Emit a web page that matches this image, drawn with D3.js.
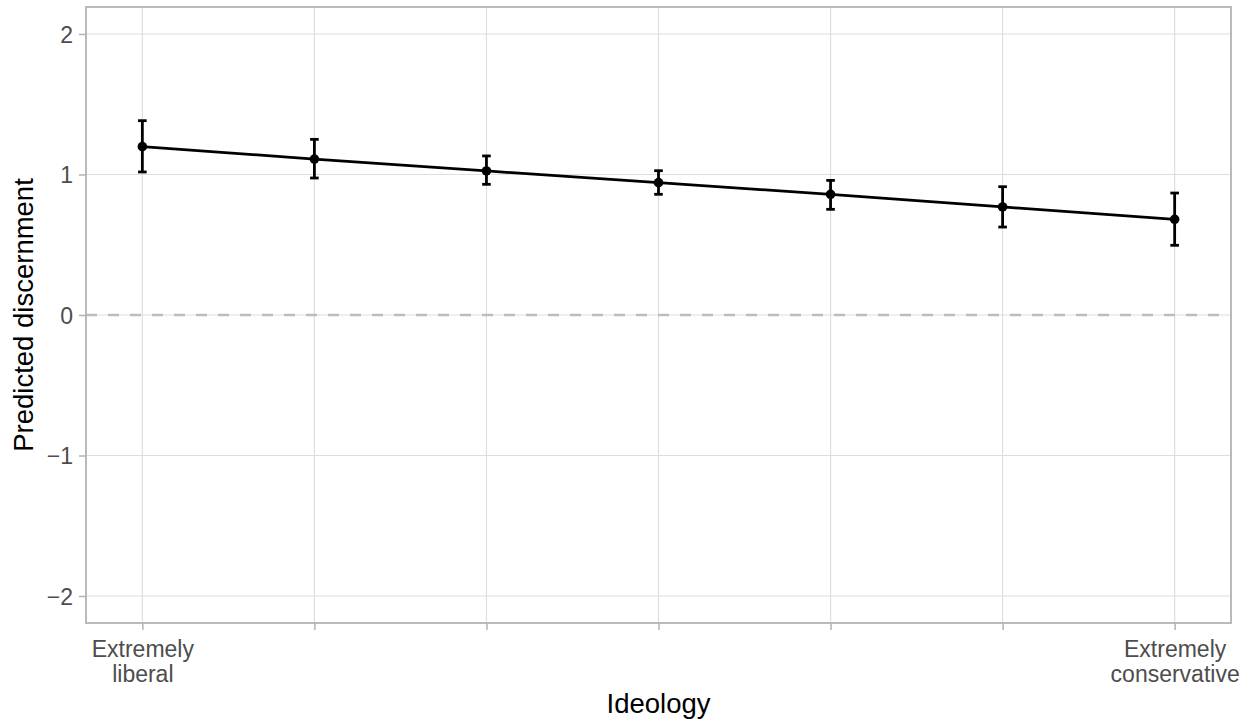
<!DOCTYPE html>
<html>
<head>
<meta charset="utf-8">
<script src="https://cdn.jsdelivr.net/npm/d3@7"></script>
<style>
  html, body { margin: 0; padding: 0; background: #ffffff; }
  svg { display: block; }
  text { font-family: "Liberation Sans", Arial, Helvetica, sans-serif; }
</style>
</head>
<body>
<svg id="chart" width="1254" height="725"></svg>
<script>
// ---- Data ----
const ideology = [1, 2, 3, 4, 5, 6, 7];
const predicted = [1.198, 1.110, 1.025, 0.942, 0.859, 0.769, 0.681];
const lower = [1.018, 0.975, 0.930, 0.859, 0.752, 0.626, 0.496];
const upper = [1.383, 1.250, 1.132, 1.027, 0.958, 0.913, 0.868];
const xTickLabels = ["Extremely\nliberal", "", "", "", "", "", "Extremely\nconservative"];
const yTicks = [-2, -1, 0, 1, 2];
const yTickLabels = ["\u22122", "\u22121", "0", "1", "2"];
const xTitle = "Ideology";
const yTitle = "Predicted discernment";

// ---- Layout ----
const W = 1254, H = 725;
const panel = { left: 86, right: 1231, top: 7, bottom: 623 };

const svg = d3.select("#chart");

const x = d3.scaleLinear().domain([0.6725, 7.3275]).range([panel.left, panel.right]);
const y = d3.scaleLinear().domain([-2.192, 2.192]).range([panel.bottom, panel.top]);

// Gridlines
const grid = svg.append("g");
grid.selectAll("line.gy").data(yTicks).join("line")
  .attr("x1", panel.left).attr("x2", panel.right)
  .attr("y1", d => y(d)).attr("y2", d => y(d))
  .attr("stroke", "#dedede").attr("stroke-width", 1.2);
grid.selectAll("line.gx").data(ideology).join("line")
  .attr("y1", panel.top).attr("y2", panel.bottom)
  .attr("x1", d => x(d)).attr("x2", d => x(d))
  .attr("stroke", "#dedede").attr("stroke-width", 1.2);

// Dashed zero line
svg.append("line")
  .attr("x1", panel.left).attr("x2", panel.right)
  .attr("y1", y(0)).attr("y2", y(0))
  .attr("stroke", "#bdbdbd").attr("stroke-width", 2.4)
  .attr("stroke-dasharray", "11,11");

// Line
const data = ideology.map((v, i) => ({ x: v, y: predicted[i], lo: lower[i], hi: upper[i] }));
svg.append("path").datum(data)
  .attr("fill", "none").attr("stroke", "#000").attr("stroke-width", 2.8)
  .attr("d", d3.line().x(d => x(d.x)).y(d => y(d.y)));

// Error bars
const capHalf = (x(1.025) - x(1));
const eb = svg.append("g").attr("stroke", "#000").attr("stroke-width", 2.8);
eb.selectAll("line.v").data(data).join("line")
  .attr("x1", d => x(d.x)).attr("x2", d => x(d.x))
  .attr("y1", d => y(d.lo)).attr("y2", d => y(d.hi));
eb.selectAll("line.t").data(data).join("line")
  .attr("x1", d => x(d.x) - capHalf).attr("x2", d => x(d.x) + capHalf)
  .attr("y1", d => y(d.hi)).attr("y2", d => y(d.hi));
eb.selectAll("line.b").data(data).join("line")
  .attr("x1", d => x(d.x) - capHalf).attr("x2", d => x(d.x) + capHalf)
  .attr("y1", d => y(d.lo)).attr("y2", d => y(d.lo));

// Points
svg.append("g").selectAll("circle").data(data).join("circle")
  .attr("cx", d => x(d.x)).attr("cy", d => y(d.y)).attr("r", 4.8)
  .attr("fill", "#000");

// Panel border
svg.append("rect")
  .attr("x", panel.left).attr("y", panel.top)
  .attr("width", panel.right - panel.left).attr("height", panel.bottom - panel.top)
  .attr("fill", "none").attr("stroke", "#b3b3b3").attr("stroke-width", 1.8);

// Y axis
const yAxis = svg.append("g").attr("transform", `translate(${panel.left},0)`)
  .call(d3.axisLeft(y).tickValues(yTicks).tickSize(7).tickPadding(6)
    .tickFormat((d, i) => yTickLabels[i]));
yAxis.select(".domain").remove();
yAxis.selectAll(".tick line").attr("stroke", "#b3b3b3").attr("stroke-width", 1.5);
yAxis.selectAll(".tick text").attr("fill", "#4d4d4d").style("font-size", "23px")
  .attr("dy", "0.36em");

// X axis
const xAxis = svg.append("g").attr("transform", `translate(0,${panel.bottom})`)
  .call(d3.axisBottom(x).tickValues(ideology).tickSize(7).tickFormat(() => ""));
xAxis.select(".domain").remove();
xAxis.selectAll(".tick line").attr("stroke", "#b3b3b3").attr("stroke-width", 1.5);
xAxis.selectAll(".tick").each(function(d, i) {
  const lines = xTickLabels[i].split("\n").filter(s => s.length);
  const t = d3.select(this).select("text")
    .attr("fill", "#4d4d4d").style("font-size", "23px")
    .attr("y", 0).attr("dy", null);
  t.text(null);
  lines.forEach((s, k) => {
    t.append("tspan").attr("x", 0).attr("y", 33.5 + k * 25.5).text(s);
  });
});

// Axis titles
svg.append("text")
  .attr("x", (panel.left + panel.right) / 2).attr("y", 713)
  .attr("text-anchor", "middle").attr("fill", "#000")
  .style("font-size", "27.5px").text(xTitle);
svg.append("text")
  .attr("transform", `translate(33,${(panel.top + panel.bottom) / 2}) rotate(-90)`)
  .attr("text-anchor", "middle").attr("fill", "#000")
  .style("font-size", "27.5px").text(yTitle);
</script>
</body>
</html>
